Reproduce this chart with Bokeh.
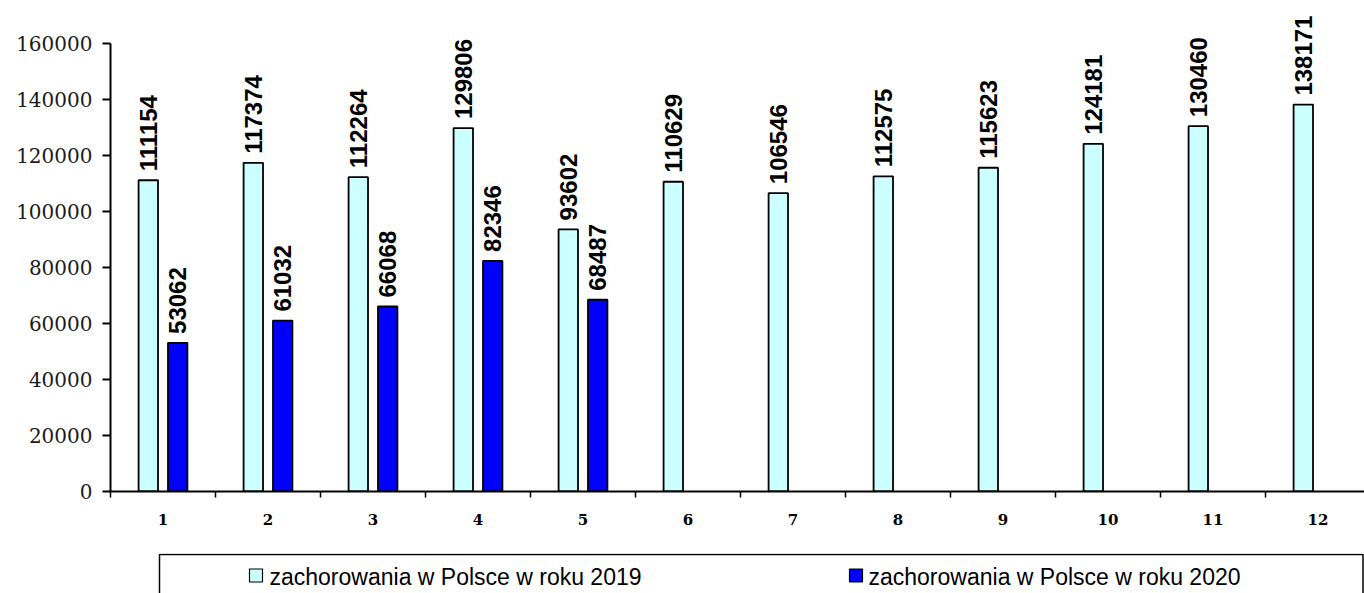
import numpy as np
from bokeh.plotting import figure
from bokeh.models import ColumnDataSource, Range1d, FixedTicker
from bokeh.layouts import column
from bokeh.core.properties import value
from bokeh.embed import file_html
from bokeh.resources import INLINE

# ---- data ----
months = ["1", "2", "3", "4", "5", "6", "7", "8", "9", "10", "11", "12"]
cases_2019 = [111154, 117374, 112264, 129806, 93602, 110629, 106546, 112575,
              115623, 124181, 130460, 138171]
cases_2020 = [53062, 61032, 66068, 82346, 68487]
series_names = ["zachorowania w Polsce w roku 2019", "zachorowania w Polsce w roku 2020"]
series_colors = ["#CCFFFF", "#0000FF"]
y_ticks = [0, 20000, 40000, 60000, 80000, 100000, 120000, 140000, 160000]
y_tick_labels = ["0", "20000", "40000", "60000", "80000", "100000", "120000", "140000", "160000"]

# ---- layout constants ----
W = 1364
MAIN_H = 553
LEG_H = 40
LEFT = 110
AXIS_Y = 491          # pixel row of the x axis
PX_PER_UNIT = 448 / 160000
CAT_PX = 105.0
BAR_W = 0.185
OFF = 0.14

pos = np.arange(1, len(months) + 1, dtype=float)

src19 = ColumnDataSource(dict(x=pos[:len(cases_2019)] - OFF, top=cases_2019,
                              label=[str(v) for v in cases_2019]))
src20 = ColumnDataSource(dict(x=pos[:len(cases_2020)] + OFF, top=cases_2020,
                              label=[str(v) for v in cases_2020]))

x_end = 0.5 + (W - LEFT) / CAT_PX
y_end = AXIS_Y / PX_PER_UNIT
p = figure(width=W, height=MAIN_H, x_range=Range1d(0.5, x_end), y_range=Range1d(0, y_end),
           toolbar_location=None, output_backend="svg",
           min_border_left=LEFT, min_border_right=0, min_border_top=0,
           min_border_bottom=MAIN_H - AXIS_Y)
p.outline_line_color = None
p.xgrid.visible = False
p.ygrid.visible = False
p.background_fill_color = "white"
p.border_fill_color = "white"

p.vbar(x="x", top="top", bottom=0, width=BAR_W, source=src19,
       fill_color=series_colors[0], line_color="black", line_width=1.8)
p.vbar(x="x", top="top", bottom=0, width=BAR_W, source=src20,
       fill_color=series_colors[1], line_color="black", line_width=1.8)

for src in (src19, src20):
    p.text(x="x", y="top", text="label", source=src, angle=np.pi / 2,
           text_align="left", text_baseline="middle", y_offset=-9,
           text_font=value("Liberation Sans"), text_font_style="bold",
           text_font_size="24px", text_color="black")

# y axis
ya = p.yaxis[0]
ya.ticker = FixedTicker(ticks=y_ticks)
ya.major_label_overrides = {t: l for t, l in zip(y_ticks, y_tick_labels)}
ya.bounds = (y_ticks[0], y_ticks[-1])
ya.axis_line_width = 2
ya.axis_line_color = "black"
ya.major_tick_out = 8
ya.major_tick_in = 0
ya.major_tick_line_width = 2
ya.major_tick_line_color = "black"
ya.minor_tick_line_color = None
ya.major_label_standoff = 10
ya.major_label_text_font = "DejaVu Serif"
ya.major_label_text_font_size = "20px"
ya.major_label_text_color = "#1a1a1a"

# x axis
xa = p.xaxis[0]
xa.ticker = FixedTicker(ticks=list(pos), minor_ticks=list(pos - 0.5) + [pos[-1] + 0.5])
xa.major_label_overrides = {float(x): m for x, m in zip(pos, months)}
xa.axis_line_width = 2
xa.axis_line_color = "black"
xa.major_tick_line_color = None
xa.major_tick_out = 0
xa.major_tick_in = 0
xa.minor_tick_out = 6
xa.minor_tick_in = 0
xa.minor_tick_line_color = "black"
xa.minor_tick_line_width = 1.5
xa.major_label_standoff = 16
xa.major_label_text_font = "DejaVu Serif"
xa.major_label_text_font_style = "bold"
xa.major_label_text_font_size = "15px"
xa.major_label_text_color = "black"

# ---- legend strip (coordinates in page pixels; frame aligned with main frame) ----
q = figure(width=W, height=LEG_H, x_range=Range1d(LEFT, W), y_range=Range1d(LEG_H, 0),
           x_axis_type=None, y_axis_type=None, toolbar_location=None, output_backend="svg",
           min_border_left=LEFT, min_border_right=0, min_border_top=0, min_border_bottom=0)
q.outline_line_color = None
q.background_fill_color = "white"
q.border_fill_color = "white"
q.quad(left=[159], right=[W - 1.5], top=[1], bottom=[LEG_H + 20],
       fill_color=None, line_color="black", line_width=1.5)
sw_x = [255.5, 855.5]
lab_x = [269, 868]
q.rect(x=sw_x, y=[22, 22], width=13, height=13,
       fill_color=series_colors, line_color="black", line_width=1.2)
q.text(x=lab_x, y=[23, 23], text=series_names, text_baseline="middle", text_align="left",
       text_font=value("Liberation Sans"), text_font_size="23px", text_color="black")

layout = column(p, q, spacing=0)
open("out.html", "w").write(file_html(layout, INLINE))
